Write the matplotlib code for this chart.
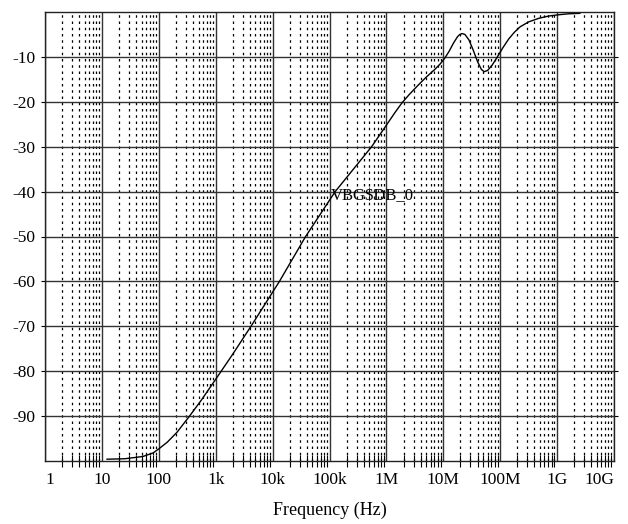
import matplotlib
matplotlib.use('Agg')
import matplotlib.pyplot as plt
import numpy as np
from matplotlib.ticker import LogLocator, NullFormatter

plt.rcParams['axes.unicode_minus'] = False

# Curva: log10(frecuencia) y magnitud en dB
log_freq = [1.09, 1.40, 1.72, 1.90, 2.00, 2.15, 2.32, 2.54, 2.75, 3.00,
            3.30, 3.63, 4.12, 4.58, 4.84, 5.10, 5.42, 5.74, 6.00, 6.15,
            6.27, 6.40, 6.55, 6.70, 6.85, 6.95, 7.03, 7.10, 7.18, 7.25,
            7.29, 7.33, 7.38, 7.45, 7.52, 7.60, 7.67, 7.72, 7.78, 7.86,
            7.95, 8.05, 8.15, 8.25, 8.35, 8.50, 8.68, 8.85, 9.04, 9.20, 9.40]
mag_db = [-99.6, -99.5, -99.0, -98.2, -97.3, -95.8, -93.6, -90.0, -86.4, -81.8,
          -76.2, -69.8, -60.0, -50.0, -45.0, -40.0, -35.0, -30.0, -25.2, -22.4,
          -20.3, -18.4, -16.4, -14.5, -12.8, -11.5, -10.2, -8.8, -6.9, -5.5,
          -5.0, -4.8, -5.0, -6.2, -8.3, -11.0, -12.8, -13.3, -13.0, -11.8,
          -10.0, -7.9, -6.0, -4.5, -3.3, -2.2, -1.4, -0.9, -0.6, -0.4, -0.3]

xticks = [1, 10, 100, 1e3, 1e4, 1e5, 1e6, 1e7, 1e8, 1e9, 1e10]
xlabels = ['1', '10', '100', '1k', '10k', '100k', '1M', '10M', '100M', '1G', '10G']
yticks = [-90, -80, -70, -60, -50, -40, -30, -20, -10]

freq = 10 ** np.array(log_freq)

fig = plt.figure(figsize=(6.28, 5.24), dpi=100)
ax = fig.add_axes([45 / 628, 1 - 461 / 524, 569 / 628, 449 / 524])

ax.plot(freq, mag_db, color='black', lw=1.0)

ax.set_xscale('log')
ax.set_xlim(1, 1e10)
ax.set_ylim(-100, 0)

# rejilla: decadas y cada 10 dB solidas, subdivisiones punteadas
ax.xaxis.set_minor_locator(LogLocator(base=10, subs=np.arange(2, 10), numticks=100))
ax.xaxis.set_minor_formatter(NullFormatter())
ax.set_xticks(xticks)
ax.set_xticklabels(xlabels)
ax.set_yticks(yticks)
ax.grid(True, which='major', color='#333333', lw=1.0, ls='-')
ax.grid(True, which='minor', axis='x', color='black', lw=0.9, ls=(0, (2, 3)))

serif = 'Liberation Serif'
for lab in ax.get_xticklabels() + ax.get_yticklabels():
    lab.set_fontfamily(serif)
    lab.set_fontsize(12.5)
xt = ax.get_xticklabels()
xt[0].set_ha('left')
xt[-1].set_ha('right')

ax.tick_params(axis='x', which='major', length=0, pad=8)
ax.tick_params(axis='x', which='minor', direction='inout', length=8, width=0.8,
               bottom=True, top=False)
ax.tick_params(axis='y', which='major', direction='out', length=3, left=True,
               right=True, pad=4)

for s in ax.spines.values():
    s.set_color('#222222')
    s.set_linewidth(1.0)

ax.text(10 ** 5.02, -41, r'VBG\$DB_0', fontfamily=serif, fontsize=12,
        ha='left', va='center')

ax.set_xlabel('Frequency (Hz)', fontfamily=serif, fontsize=13, labelpad=10)

fig.savefig('out.png', dpi=100)
